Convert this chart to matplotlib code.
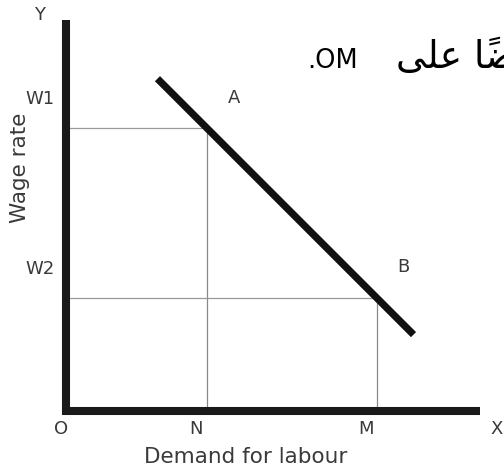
import matplotlib
matplotlib.use('Agg')
import matplotlib.pyplot as plt

# Уровни зарплаты и спроса на труд (условные единицы)
wage_levels = [4.0, 1.6]          # W1, W2
wage_labels = ['W1', 'W2']
labour_levels = [2.0, 4.4]        # N, M
labour_labels = ['N', 'M']
point_labels = ['A', 'B']

# Кривая спроса на труд
demand_q = [1.3, 4.92]
demand_w = [4.7, 1.08]

x_max = 5.86
y_max = 5.53

fig = plt.figure(figsize=(5.04, 4.76), dpi=100)
ax = fig.add_axes([65.5 / 504, 65 / 476, 414.5 / 504, 391 / 476])
ax.set_xlim(0, x_max)
ax.set_ylim(0, y_max)
ax.axis('off')

txt = dict(fontsize=13, color='#3a3a3a', ha='center', va='center')

# Оси
ax.plot([0, 0, x_max], [y_max, 0, 0], color='#1a1a1a', linewidth=5.8,
        solid_joinstyle='miter', solid_capstyle='butt', clip_on=False, zorder=3)

# Вспомогательные линии
for q, w in zip(labour_levels, wage_levels):
    ax.plot([0, q], [w, w], color='#999999', linewidth=0.9, zorder=1)
    ax.plot([q, q], [0, w], color='#888888', linewidth=0.9, zorder=1)

# Кривая спроса
ax.plot(demand_q, demand_w, color='#111111', linewidth=5.2,
        solid_capstyle='butt', zorder=2)

# Подписи
for q, lab in zip(labour_levels, labour_labels):
    ax.text(q - 0.15, -0.25, lab, clip_on=False, **txt)
for w, lab in zip(wage_levels, wage_labels):
    ax.text(-0.36, w + 0.41, lab, clip_on=False, **txt)
for q, w, lab in zip(labour_levels, wage_levels, point_labels):
    ax.text(q + 0.38, w + 0.43, lab, **txt)

ax.text(-0.06, -0.25, 'O', clip_on=False, **txt)
ax.text(6.1, -0.25, 'X', clip_on=False, **txt)
ax.text(-0.37, 5.6, 'Y', clip_on=False, **txt)
txt_big = dict(txt, fontsize=15.5)
ax.text(-0.64, 3.44, 'Wage rate', rotation=90, clip_on=False, **txt_big)
ax.text(2.55, -0.65, 'Demand for labour', clip_on=False, **txt_big)

# Обрезанный арабский текст (в визуальном порядке)
fig.text(307 / 504, 1 - 68 / 476, '.OM', fontsize=18.5, color='black',
         ha='left', va='baseline')
arabic = '\uFEF0\uFEE0\uFECB' + ' ' + '\uFE8E\u064B\uFEC0\uFEF4\uFE84'
fig.text(396 / 504, 1 - 68 / 476, arabic, fontsize=27, color='black',
         ha='left', va='baseline', family=['DejaVu Sans', 'Noto Sans'])

fig.savefig('out.png', dpi=100)
